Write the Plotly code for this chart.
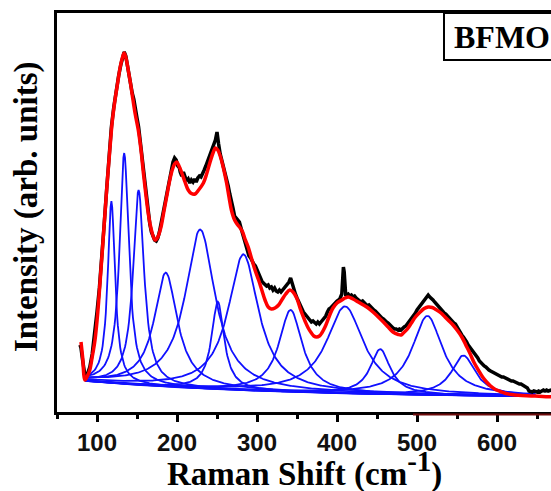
import numpy as np
import plotly.graph_objects as go

# ---------------- data (intensity in arbitrary units) ----------------
# experimental Raman spectrum (black)
exp_x = [78.75, 80, 82, 85, 88, 91, 94, 97, 100, 103, 106, 109, 112, 115, 118, 121, 124, 127, 130, 132,
         134, 136, 138, 140, 142, 144, 146, 148, 150, 152, 154, 156, 158, 160, 162, 164, 166, 168, 170, 172,
         174, 176, 178, 180, 183, 186, 189, 192, 195, 197, 199, 201, 203, 204, 206, 208, 210, 212, 214, 216,
         218, 220, 222, 224, 226, 228, 230, 232, 234, 236, 238, 240, 242, 244, 246, 248, 250, 251, 252, 254,
         256, 258, 260, 262, 264, 266, 268, 270, 272, 274, 276, 278, 280, 282, 284, 286, 288, 290, 292, 294,
         296, 298, 300, 302, 304, 306, 308, 310, 312, 314, 316, 318, 320, 322, 324, 326, 328, 330, 332, 334,
         336, 338, 340, 342, 344, 346, 348, 350, 352, 354, 356, 358, 360, 362, 364, 366, 368, 370, 372, 374,
         376, 378, 380, 382, 384, 386, 388, 390, 392, 394, 396, 398, 400, 402, 404, 406, 407, 408, 409, 410,
         411, 412, 414, 416, 418, 420, 422, 424, 426, 428, 430, 432, 434, 436, 438, 440, 442, 444, 446, 448,
         450, 452, 454, 456, 458, 460, 462, 464, 466, 468, 470, 472, 474, 476, 478, 480, 482, 484, 486, 488,
         490, 492, 494, 496, 498, 500, 502, 504, 506, 508, 510, 512, 514, 516, 518, 520, 522, 524, 526, 528,
         530, 532, 534, 536, 538, 540, 542, 544, 546, 548, 550, 552, 554, 556, 558, 560, 562, 564, 566, 568,
         570, 572, 574, 576, 578, 580, 582, 584, 586, 588, 590, 592, 594, 596, 598, 600, 602, 604, 606, 608,
         610, 612, 614, 616, 618, 620, 622, 624, 626, 628, 630, 632, 634, 636, 638, 640, 642, 644, 646, 648,
         650, 652, 654, 656, 658, 660, 662, 664, 666, 668]
exp_y = [67, 64, 52, 36, 38, 45, 58, 76, 100, 124, 152, 188, 222, 258, 285, 305, 322, 336, 348, 355,
         360, 356, 346, 336, 326, 319, 313, 301, 294, 285, 271, 255, 241, 224, 210, 198, 188, 180, 175, 172,
         171, 174, 180, 188, 200, 214, 228, 240, 250, 254, 252, 246, 244, 240, 236, 240, 234, 231, 233, 229,
         232, 230, 233, 230, 234, 236, 235, 238, 242, 246, 250, 254, 258, 262, 268, 272, 280, 276, 268, 258,
         252, 246, 238, 232, 226, 218, 212, 204, 196, 194, 192, 190, 184, 178, 172, 166, 160, 156, 154, 150,
         148, 146, 142, 138, 134, 131, 129, 128, 126, 127, 124, 125, 122, 124, 121, 120, 122, 120, 122, 124,
         126, 128, 130, 134, 128, 122, 118, 114, 110, 106, 102, 100, 98, 96, 93, 92, 90, 91, 89, 88,
         90, 88, 90, 92, 94, 96, 100, 103, 104, 106, 108, 109, 111, 112, 114, 118, 130, 145, 140, 124,
         116, 117, 118, 116, 117, 115, 116, 114, 113, 112, 110, 111, 109, 108, 106, 107, 105, 103, 102, 101,
         99, 98, 96, 94, 93, 91, 90, 89, 87, 86, 84, 83, 83, 82, 83, 82, 84, 85, 86, 88,
         91, 93, 95, 97, 99, 102, 104, 106, 108, 110, 112, 115, 117, 115, 114, 112, 110, 108, 107, 104,
         103, 101, 99, 98, 96, 94, 92, 90, 89, 88, 85, 82, 80, 77, 75, 73, 70, 67, 65, 63,
         61, 59, 56, 54, 51, 49, 47, 46, 45, 43, 42, 41, 40, 39, 38, 38, 37, 36, 35, 35,
         34, 33, 33, 32, 31, 31, 30, 30, 29, 28, 28, 27, 27, 26, 24, 21, 20, 20, 21, 20,
         20, 21, 20, 21, 22, 21, 22, 21, 22, 22]

# cumulative fit (red)
fit_x = [80, 82, 85, 88, 91, 94, 97.5, 101, 104, 107, 110, 113, 116, 119, 122.5, 126, 129, 132, 134, 136.5,
         139, 142, 145, 148, 151.6, 155, 158, 161, 164, 168, 172.5, 176, 180, 183.5, 187, 190.5, 194, 197, 199.6, 202.5,
         206, 210, 214, 218, 222.5, 227, 233, 237, 241, 245, 248, 251, 254, 258, 262, 265, 268, 272, 276, 279,
         282, 285, 289, 293, 297.5, 302, 306, 310, 314, 318, 322.5, 327, 331, 336, 341, 345, 349.6, 353, 356, 360,
         364, 368, 371, 374.6, 378, 381, 385, 389, 392, 395, 400, 406, 410, 414, 420, 426.6, 433, 439, 445, 451.6,
         458, 464, 470, 476.6, 480, 483, 488, 493, 498, 504, 509, 514, 519, 524.6, 530, 535, 540, 545, 550, 556,
         561, 566, 571, 576.6, 582, 587, 592, 597.5, 604, 610, 618, 626.6, 637, 647.5, 657, 667.5]
fit_y = [70, 55, 32, 36, 42, 55, 72, 100, 132, 165, 199, 232, 262, 290, 312, 330, 345, 355, 359, 353,
         342, 328, 312, 297, 282, 262, 239, 218, 199, 182, 172, 175, 185, 200, 215, 230, 242, 248, 250, 246,
         239, 230, 222, 218.5, 218, 222, 229, 238, 249, 259, 264, 262, 256, 244, 229, 215, 202, 192, 187, 184,
         180, 173, 165, 154, 142, 132, 122, 112, 105, 103, 104, 107, 112, 118, 122, 120, 114, 106, 99, 91,
         84, 79, 76, 75, 76, 79, 85, 93, 99, 104, 109, 112, 114, 115, 113, 110, 107, 104, 100, 95,
         90, 85, 80, 77.5, 77, 79, 83, 89, 95, 100, 103.5, 105, 104.5, 102, 99, 95, 91, 87, 82, 75,
         67, 59, 50, 42, 35, 30, 26, 22.7, 20.5, 18.7, 17.5, 16.7, 16.2, 16, 15.6, 15.3]

# fitted peak components (Lorentzian): centre, height above baseline, FWHM
peak_center = [118, 134, 152, 186, 229, 251, 283, 342, 410, 454, 513, 558]
peak_height = [182, 231, 195, 114, 159, 87.5, 136, 82, 87, 45, 79, 40]
peak_fwhm = [11, 14, 16.5, 35, 45, 19, 46, 35, 56, 30, 46, 36]
# exponential baseline parameters: offset, amplitude, decay length
base_offset, base_amp, base_decay = 14, 17, 250
comp_range = [85, 648]

x_ticks = [100, 200, 300, 400, 500, 600]
x_minor = [50, 150, 250, 350, 450, 550, 650]

# ---------------- figure ----------------
fig = go.Figure()
xc = np.arange(comp_range[0], comp_range[1] + 0.5, 1.0)
base = base_offset + base_amp * np.exp(-(xc - comp_range[0]) / base_decay)
for c, h, w in zip(peak_center, peak_height, peak_fwhm):
    yc = base + h / (1 + (2 * (xc - c) / w) ** 2)
    fig.add_trace(go.Scatter(x=xc, y=yc, mode="lines",
                             line=dict(color="#1010ff", width=1.8), hoverinfo="skip"))

fig.add_trace(go.Scatter(x=exp_x, y=exp_y, mode="lines", line=dict(color="black", width=3.5)))
fig.add_trace(go.Scatter(x=fit_x, y=fit_y, mode="lines", line=dict(color="#ff0000", width=3.5, shape="spline")))

fig.update_layout(
    width=551, height=491,
    margin=dict(l=57, r=0, t=13, b=79),
    paper_bgcolor="white", plot_bgcolor="white",
    showlegend=False,
    xaxis=dict(range=[50, 667.5], showgrid=False, zeroline=False,
               showline=True, linewidth=3, linecolor="black", mirror=True,
               ticks="outside", tickvals=x_ticks, ticklen=7, tickwidth=2.5, tickcolor="black",
               minor=dict(ticks="outside", tickvals=x_minor, ticklen=4, tickwidth=2.5, tickcolor="black"),
               tickfont=dict(family="Liberation Sans", size=24, color="#111", weight="bold")),
    yaxis=dict(range=[0, 399], showgrid=False, zeroline=False,
               showline=True, linewidth=3, linecolor="black", mirror=False,
               ticks="", showticklabels=False),
)

# BFMO label box
fig.add_shape(type="rect", xref="paper", yref="paper", x0=0.7834, x1=1.05, y0=0.882, y1=1.0,
              line=dict(color="black", width=2), fillcolor="white", layer="above")
fig.add_annotation(text="<b>BFMO</b>", xref="paper", yref="paper", x=0.7996, y=0.94,
                   xanchor="left", yanchor="middle", showarrow=False,
                   font=dict(family="Liberation Serif", size=32, color="black"))

# dark red segment on the bottom axis
fig.add_shape(type="line", xref="x", yref="paper", x0=495, x1=667.5, y0=-0.006, y1=-0.006,
              line=dict(color="#6e0a0a", width=2), layer="above")

# axis titles
fig.add_annotation(text="<b>Raman Shift (cm<sup><span style='font-size:29px'>-1</span></sup>)</b>",
                   xref="paper", yref="paper",
                   x=0.502, y=-0.143, xanchor="center", yanchor="middle", showarrow=False,
                   font=dict(family="Liberation Serif", size=33, color="black"))
fig.add_annotation(text="<b>Intensity (arb. units)</b>", xref="paper", yref="paper",
                   x=-0.0628, y=0.516, xanchor="center", yanchor="middle", showarrow=False,
                   textangle=-90, font=dict(family="Liberation Serif", size=33, color="black"))

fig.write_html("out.html")
